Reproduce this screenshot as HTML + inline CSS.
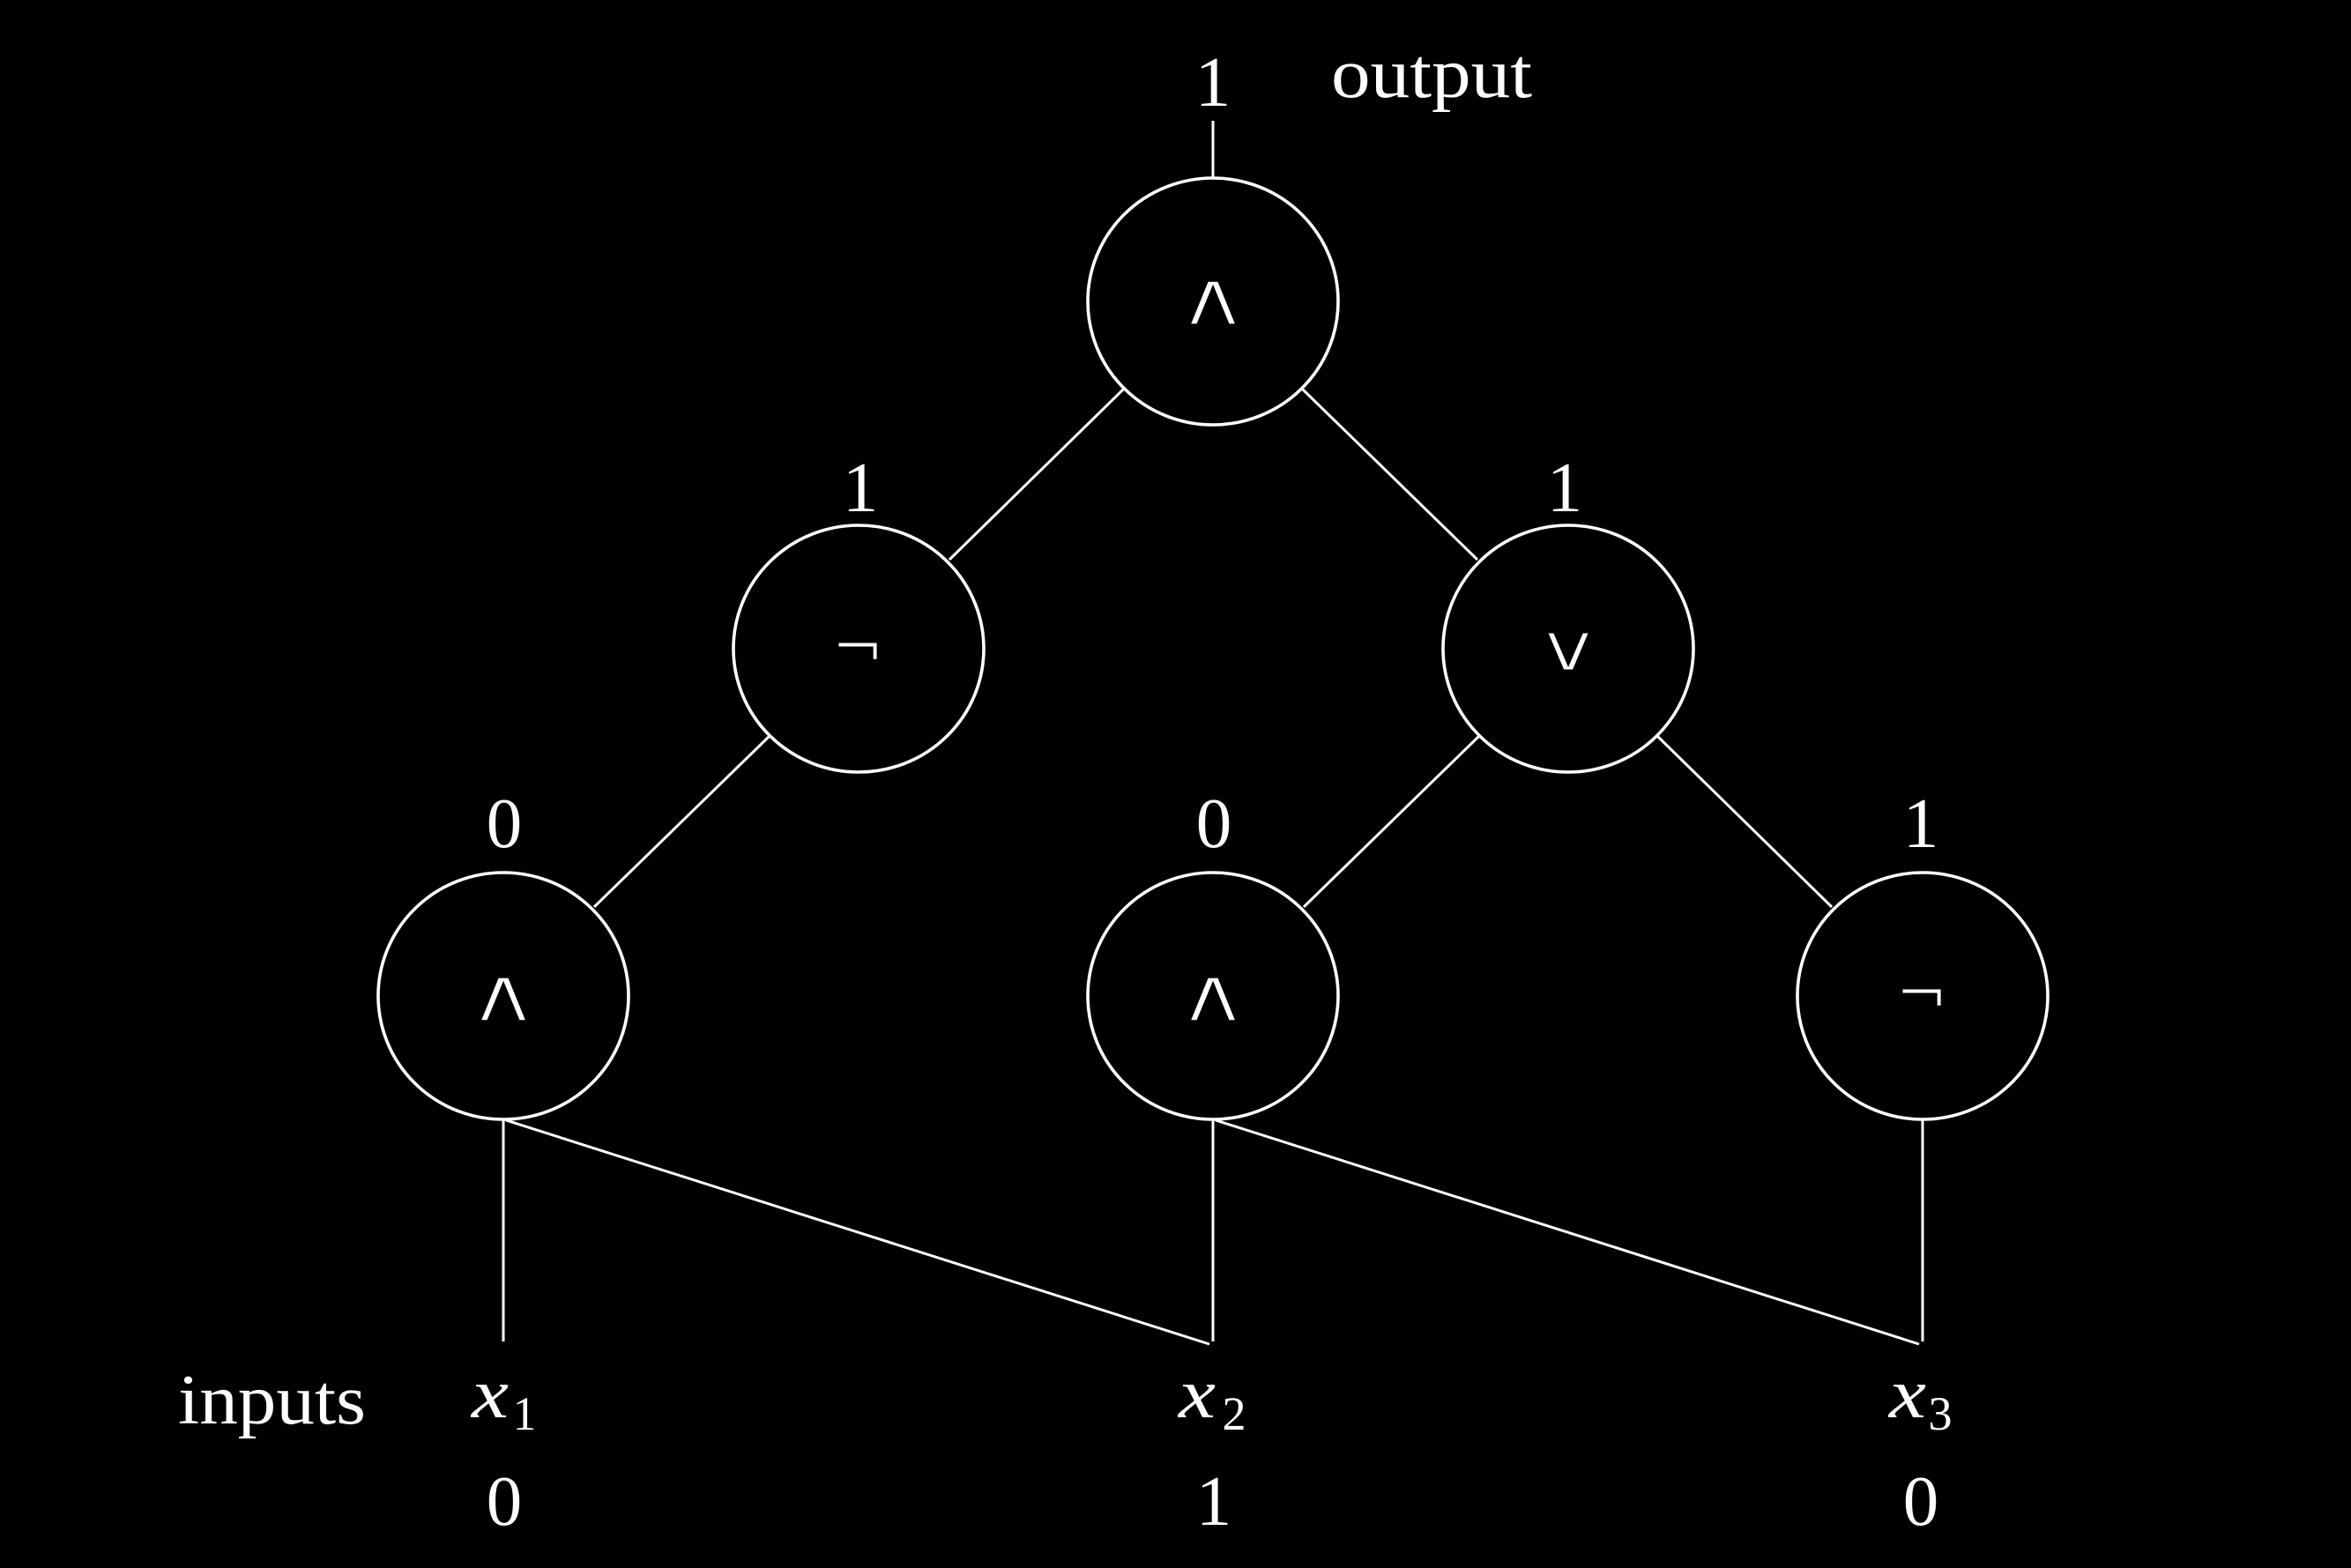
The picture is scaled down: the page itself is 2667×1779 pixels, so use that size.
<!DOCTYPE html>
<html>
<head>
<meta charset="utf-8">
<style>
  html,body{margin:0;padding:0;background:#000;}
  body{width:2667px;height:1779px;overflow:hidden;}
  svg{display:block;}
  .t{font-family:"Liberation Serif",serif;fill:#fff;}
  .m{font-family:"Liberation Serif",serif;font-style:italic;fill:#fff;}
  .s{font-family:"DejaVu Sans",sans-serif;fill:#fff;stroke:#000;}
</style>
</head>
<body>
<svg width="2667" height="1779" viewBox="0 0 2667 1779" xmlns="http://www.w3.org/2000/svg">
  <rect width="2667" height="1779" fill="#000"/>
  <g fill="none" stroke="#fff" stroke-width="3.6">
    <ellipse cx="1376" cy="342" rx="142" ry="140"/>
    <ellipse cx="974" cy="736" rx="142" ry="140"/>
    <ellipse cx="1779" cy="736" rx="142" ry="140"/>
    <ellipse cx="571" cy="1130" rx="142" ry="140"/>
    <ellipse cx="1376" cy="1130" rx="142" ry="140"/>
    <ellipse cx="2181" cy="1130" rx="142" ry="140"/>
  </g>
  <g stroke="#fff" stroke-width="3" fill="none">
    <line x1="1376" y1="137" x2="1376" y2="202"/>
    <line x1="1275" y1="441" x2="1077" y2="635"/>
    <line x1="1477" y1="441" x2="1676" y2="635"/>
    <line x1="873" y1="835" x2="674" y2="1029"/>
    <line x1="1678" y1="835" x2="1479" y2="1029"/>
    <line x1="1880" y1="835" x2="2078" y2="1029"/>
    <line x1="571" y1="1270" x2="571" y2="1522"/>
    <line x1="574" y1="1271" x2="1372" y2="1525"/>
    <line x1="1376" y1="1270" x2="1376" y2="1522"/>
    <line x1="1379" y1="1271" x2="2177" y2="1525"/>
    <line x1="2181" y1="1270" x2="2181" y2="1522"/>
  </g>

  <!-- operator symbols -->
  <text class="s" transform="translate(1376,369) scale(1.34,1)" font-size="88" stroke-width="3.5" text-anchor="middle">∧</text>
  <text class="s" transform="translate(973,759)" font-size="72" stroke-width="2" text-anchor="middle">¬</text>
  <text class="s" transform="translate(1779,761) scale(1.4,1)" font-size="76" stroke-width="3" text-anchor="middle">∨</text>
  <text class="s" transform="translate(571,1159) scale(1.34,1)" font-size="88" stroke-width="3.5" text-anchor="middle">∧</text>
  <text class="s" transform="translate(1376,1159) scale(1.34,1)" font-size="88" stroke-width="3.5" text-anchor="middle">∧</text>
  <text class="s" transform="translate(2180,1152)" font-size="72" stroke-width="2" text-anchor="middle">¬</text>

  <!-- node values -->
  <text class="t" x="1376" y="120" font-size="81" text-anchor="middle">1</text>
  <text class="t" x="1510" y="110" font-size="81" textLength="228" lengthAdjust="spacingAndGlyphs">output</text>
  <text class="t" x="976" y="580" font-size="81" text-anchor="middle">1</text>
  <text class="t" x="1775" y="580" font-size="81" text-anchor="middle">1</text>
  <text class="t" x="572" y="961" font-size="81" text-anchor="middle">0</text>
  <text class="t" x="1377" y="961" font-size="81" text-anchor="middle">0</text>
  <text class="t" x="2179" y="961" font-size="81" text-anchor="middle">1</text>

  <!-- inputs -->
  <text class="t" x="202" y="1615" font-size="81" textLength="213" lengthAdjust="spacingAndGlyphs">inputs</text>

  <text class="m" x="535" y="1608" font-size="81" textLength="42" lengthAdjust="spacingAndGlyphs">x</text>
  <text class="t" x="595" y="1622" font-size="54" text-anchor="middle">1</text>
  <text class="m" x="1337" y="1608" font-size="81" textLength="42" lengthAdjust="spacingAndGlyphs">x</text>
  <text class="t" x="1400" y="1622" font-size="54" text-anchor="middle">2</text>
  <text class="m" x="2143" y="1608" font-size="81" textLength="42" lengthAdjust="spacingAndGlyphs">x</text>
  <text class="t" x="2201" y="1622" font-size="54" text-anchor="middle">3</text>

  <text class="t" x="572" y="1730" font-size="81" text-anchor="middle">0</text>
  <text class="t" x="1377" y="1730" font-size="81" text-anchor="middle">1</text>
  <text class="t" x="2179" y="1730" font-size="81" text-anchor="middle">0</text>
</svg>
</body>
</html>
